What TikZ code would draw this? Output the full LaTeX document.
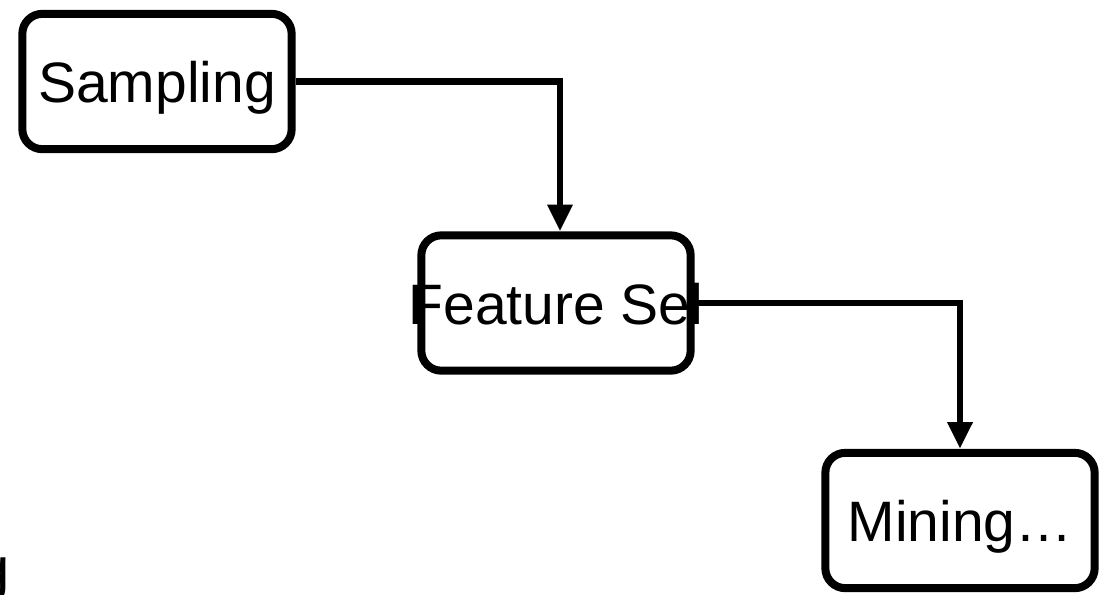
\documentclass[tikz,border=0pt]{standalone}
\usepackage{fontspec}
\setmainfont{Liberation Sans}
\usetikzlibrary{arrows.meta}
\tikzset{
  stepbox/.style={draw=black, line width=6pt, rounded corners=15pt, fill=none,
    minimum width=202pt, minimum height=101.5pt, inner sep=0pt,
    text height=31.5pt, text depth=0pt,
    font=\fontsize{42.75}{50}\selectfont},
  flow/.style={draw=black, line width=4.8pt, -{Triangle[width=18pt,length=20pt]}}
}
\begin{document}
\begin{tikzpicture}[x=0.75pt,y=-0.75pt]
  \fill[white] (0,0) rectangle (1106,594);
  \useasboundingbox (0,0) rectangle (1106,594);
  \node[stepbox] (samp) at (157,81.5) {\makebox[0pt]{Sampling}};
  \node[stepbox] (feat) at (556,303) {\makebox[0pt]{Feature Sel}};
  \node[stepbox] (mine) at (960,520.5) {\makebox[0pt]{Mining…}};
  \node[anchor=base east, inner sep=0pt, font=\fontsize{45}{50}\selectfont] (gfrag) at (10,589) {g};
  \draw[flow] (samp.east) -| ([xshift=3pt]feat.north);
  \draw[flow] (feat.east) -| (mine.north);
\end{tikzpicture}
\end{document}
